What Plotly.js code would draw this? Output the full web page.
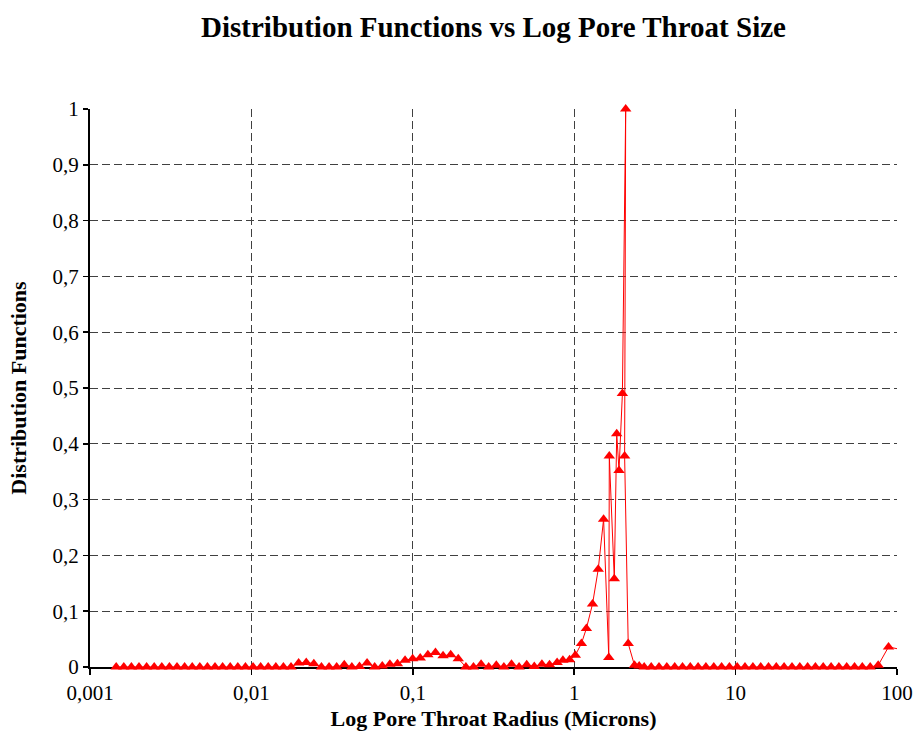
<!DOCTYPE html>
<html>
<head>
<meta charset="utf-8">
<script src="https://cdn.plot.ly/plotly-3.0.1.min.js"></script>
<style>
  html, body { margin: 0; padding: 0; background: #fff; }
  #chart { width: 917px; height: 738px; }
</style>
</head>
<body>
<div id="chart"></div>
<script>
// Pore throat radius (microns)
const radius = [
  0.001453, 0.001620, 0.001805, 0.002012, 0.002243, 0.002499, 0.002786, 0.003105, 0.003460, 0.003857,
  0.004298, 0.004790, 0.005339, 0.005950, 0.006632, 0.007391, 0.008237, 0.009183, 0.01024, 0.01141,
  0.01271, 0.01417, 0.01579, 0.01760, 0.01962, 0.02187, 0.02437, 0.02716, 0.03028, 0.03375,
  0.03761, 0.04192, 0.04673, 0.05207, 0.05804, 0.06469, 0.07209, 0.08035, 0.08955, 0.09982,
  0.1112, 0.1240, 0.1382, 0.1540, 0.1717, 0.1913, 0.2133, 0.2377, 0.2649, 0.2953,
  0.3291, 0.3667, 0.4088, 0.4556, 0.5078, 0.5659, 0.6308, 0.7031, 0.7836,
  0.8511, 0.9365, 1.016, 1.108, 1.190, 1.299, 1.409, 1.521, 1.638, 1.650,
  1.772, 1.834, 1.895, 1.989, 2.085, 2.053, 2.161,
  2.364, 2.527, 2.714,
  3.000, 3.353, 3.748, 4.195, 4.688, 5.240, 5.857, 6.546, 7.326, 8.190,
  9.154, 10.23, 11.43, 12.80, 14.31, 15.99, 17.87, 19.97, 22.36, 24.99,
  27.93, 31.22, 34.90, 39.06, 43.65, 48.79, 54.55, 60.95, 68.23,
  76.45, 88.60, 115.7
];

// Normalised distribution function at each radius
const distFn = [
  0, 0, 0, 0, 0, 0, 0, 0, 0, 0,
  0, 0, 0, 0, 0, 0, 0, 0, 0, 0,
  0, 0, 0, 0, 0.007, 0.008, 0.006, 0, 0, 0,
  0.004, 0, 0.001, 0.007, 0, 0.002, 0.005, 0.006, 0.012, 0.015,
  0.016, 0.022, 0.026, 0.020, 0.022, 0.015, 0, 0, 0.005, 0,
  0.003, 0, 0.005, 0, 0.004, 0.001, 0.005, 0.004, 0.008,
  0.012, 0.013, 0.021, 0.042, 0.069, 0.113, 0.175, 0.265, 0.017, 0.378,
  0.158, 0.418, 0.352, 0.490, 1.0, 0.378, 0.042,
  0.003, 0.002, 0,
  0, 0, 0, 0, 0, 0, 0, 0, 0, 0,
  0, 0, 0, 0, 0, 0, 0, 0, 0, 0,
  0, 0, 0, 0, 0, 0, 0, 0, 0,
  0.003, 0.036, 0.029
];

const xTickVals = [0.001, 0.01, 0.1, 1, 10, 100];
const xTickText = ['0,001', '0,01', '0,1', '1', '10', '100'];
const yTickVals = [0, 0.1, 0.2, 0.3, 0.4, 0.5, 0.6, 0.7, 0.8, 0.9, 1];
const yTickText = ['0', '0,1', '0,2', '0,3', '0,4', '0,5', '0,6', '0,7', '0,8', '0,9', '1'];

const serif = 'Liberation Serif, Times New Roman, serif';

// markers are drawn unclipped so those on the baseline show whole;
// hide any that fall past the right end of the axis
const markerOpacity = radius.map(r => (r <= 100 ? 1 : 0));

const trace = {
  x: radius,
  y: distFn,
  type: 'scatter',
  mode: 'lines+markers',
  cliponaxis: false,
  line: { color: '#ff0000', width: 1 },
  marker: { symbol: 'triangle-up', size: 10, color: '#ff0000', opacity: markerOpacity },
  showlegend: false,
  hoverinfo: 'x+y'
};

const gridStyle = { showgrid: true, gridcolor: '#404040', gridwidth: 1, griddash: '8px,4px' };

const layout = {
  width: 917,
  height: 738,
  margin: { l: 90, r: 20, t: 109, b: 71 },
  paper_bgcolor: '#ffffff',
  plot_bgcolor: '#ffffff',
  font: { family: serif, color: '#000000', size: 21 },
  title: {
    text: '<b>Distribution Functions vs Log Pore Throat Size</b>',
    font: { family: serif, size: 29, color: '#000000' },
    xref: 'paper', x: 0.5, xanchor: 'center',
    yref: 'container', y: 0.963, yanchor: 'middle'
  },
  xaxis: Object.assign({
    type: 'log',
    range: [-3, 2],
    tickmode: 'array',
    tickvals: xTickVals,
    ticktext: xTickText,
    ticks: 'outside',
    ticklen: 6,
    tickwidth: 1.5,
    tickcolor: '#000000',
    tickfont: { family: serif, size: 21, color: '#000000' },
    showline: true,
    linecolor: '#000000',
    linewidth: 2,
    zeroline: false,
    layer: 'below traces',
    automargin: false,
    title: {
      text: '<b>Log Pore Throat Radius (Microns)</b>',
      font: { family: serif, size: 22, color: '#000000' },
      standoff: 6
    }
  }, gridStyle),
  yaxis: Object.assign({
    range: [0, 1],
    tickmode: 'array',
    tickvals: yTickVals,
    ticktext: yTickText,
    ticks: 'outside',
    ticklen: 5,
    tickwidth: 1.5,
    tickcolor: '#000000',
    tickfont: { family: serif, size: 21, color: '#000000' },
    showline: true,
    linecolor: '#000000',
    linewidth: 2,
    zeroline: false,
    layer: 'below traces',
    automargin: false,
    title: {
      text: '<b>Distribution Functions</b>',
      font: { family: serif, size: 22, color: '#000000' },
      standoff: 20
    }
  }, gridStyle)
};

Plotly.newPlot('chart', [trace], layout, { displayModeBar: false, staticPlot: true });
</script>
</body>
</html>
